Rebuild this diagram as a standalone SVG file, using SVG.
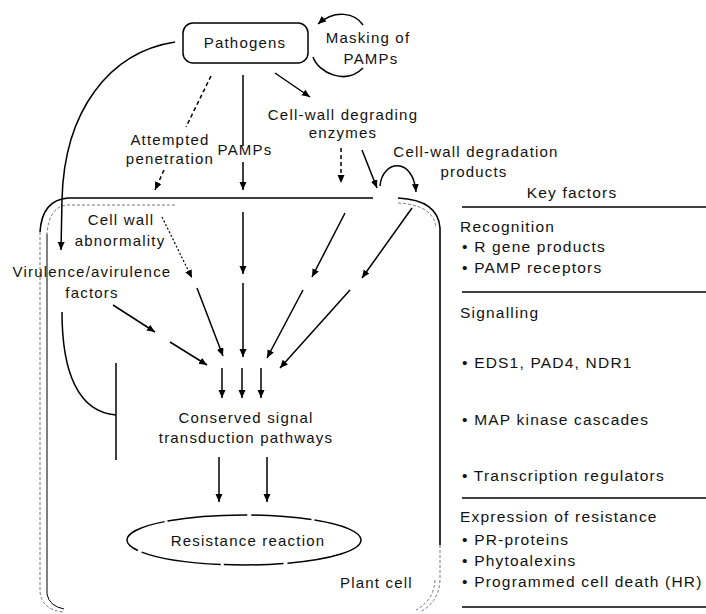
<svg xmlns="http://www.w3.org/2000/svg" width="706" height="614" viewBox="0 0 706 614">
  <style>
    .t { font-family: "Liberation Sans", Arial, sans-serif; font-size: 15px; letter-spacing: 1.2px; fill: #111; }
    .k { font-family: "Liberation Sans", Arial, sans-serif; font-size: 15.5px; letter-spacing: 1.2px; fill: #111; }
    .c { text-anchor: middle; }
    .ln { fill: none; stroke: #000; stroke-width: 1.5; }
    .arr { fill: none; stroke: #000; stroke-width: 1.5; marker-end: url(#ah); }
    .dash { stroke-dasharray: 4 3; }
    .dot { stroke-dasharray: 2 2; stroke-width: 1.2; }
    .wall { fill: none; stroke: #000; stroke-width: 1.6; }
    .wall2 { fill: none; stroke: #666; stroke-width: 0.9; stroke-dasharray: 3 2; }
    .rule { stroke: #000; stroke-width: 1.6; }
  </style>
  <defs>
    <marker id="ah" markerUnits="userSpaceOnUse" markerWidth="10" markerHeight="8" refX="8" refY="3.5" orient="auto">
      <path d="M0,0 L8,3.5 L0,7 z" fill="#000"/>
    </marker>
  </defs>

  <rect width="706" height="614" fill="#fff"/>

  <!-- plant cell wall (double line, open where products pass through) -->
  <g id="plant-cell">
    <path class="wall" d="M373,198 L68,198 Q42,200 40,232"/>
    <path class="wall2" d="M40,232 L40,592 Q42,610 64,612"/>
    <path class="wall2" d="M175,205 L68,205 Q49,206 47,234"/>
    <path fill="none" stroke="#000" stroke-width="1" d="M47,234 L47,594 Q49,606 64,609"/>
    <path class="wall" d="M398,198 Q438,200 440,228 L440,545"/>
    <path class="wall2" d="M398,203 Q434,205 436,228"/>
    <path class="wall2" d="M440,545 L440,580 Q439,602 420,612"/>
    <path class="wall2" d="M435,580 Q434,600 416,610"/>
    <text class="t" x="340" y="588">Plant cell</text>
  </g>

  <g id="pathogens">
    <rect x="183" y="23" width="125" height="40" rx="10" ry="10" fill="#fff" stroke="#000" stroke-width="1.5"/>
    <text class="t c" x="245" y="48">Pathogens</text>
  </g>

  <g id="masking">
    <text class="t c" x="368" y="43">Masking of</text>
    <text class="t c" x="371" y="64">PAMPs</text>
  </g>

  <g id="attempted-penetration">
    <text class="t c" x="170" y="145">Attempted</text>
    <text class="t c" x="170" y="164">penetration</text>
  </g>

  <g id="pamps">
    <text class="t c" x="245" y="155">PAMPs</text>
  </g>

  <g id="enzymes">
    <text class="t c" x="343" y="120">Cell-wall degrading</text>
    <text class="t c" x="343" y="138">enzymes</text>
  </g>

  <g id="degradation-products">
    <text class="t c" x="476" y="157">Cell-wall degradation</text>
    <text class="t c" x="474" y="177">products</text>
  </g>

  <g id="cell-wall-abnormality">
    <text class="t c" x="121" y="225">Cell wall</text>
    <text class="t c" x="120" y="246">abnormality</text>
  </g>

  <g id="virulence-factors">
    <text class="t c" x="92" y="277">Virulence/avirulence</text>
    <text class="t c" x="92" y="298">factors</text>
  </g>

  <g id="signal-pathways">
    <text class="t c" x="246" y="423">Conserved signal</text>
    <text class="t c" x="246" y="443">transduction pathways</text>
  </g>

  <g id="resistance-reaction">
    <ellipse cx="244" cy="540" rx="117" ry="25" fill="none" stroke="#000" stroke-width="1.5" stroke-dasharray="80 4 60 3"/>
    <text class="t c" x="248" y="546">Resistance reaction</text>
  </g>

  <g id="connectors">
    <!-- from pathogens -->
    <path class="ln dash" d="M211,76 L186,127"/>
    <path class="arr dash" d="M164,170 L155,190"/>
    <path class="ln" d="M243,75 L243,146"/>
    <path class="arr" d="M243,162 L243,190"/>
    <path class="arr" d="M275,73 L310,97"/>
    <path class="arr dash" d="M341,148 L341,183"/>
    <path class="arr" d="M362,150 L377,188"/>
    <path class="arr" d="M380,186 C382,160 413,156 416,192"/>
    <path class="arr" d="M175,42 C110,52 64,110 62,200 L61,250"/>
    <!-- masking loop -->
    <path class="arr" d="M363,25 C355,13 335,9 318,24"/>
    <path class="ln" d="M313,57 C318,72 345,86 363,68"/>

    <!-- inside the cell -->
    <path class="arr dot" d="M162,217 L192,278"/>
    <path class="arr" d="M197,288 L223,356"/>
    <path class="arr" d="M243,212 L243,274"/>
    <path class="arr" d="M243,283 L243,357"/>
    <path class="arr" d="M345,213 L312,277"/>
    <path class="arr" d="M303,290 L267,358"/>
    <path class="arr" d="M412,208 L362,278"/>
    <path class="arr" d="M350,290 L280,368"/>
    <path class="arr" d="M113,305 L155,332"/>
    <path class="arr" d="M170,342 L207,365"/>
    <path class="arr" d="M222,368 L222,398"/>
    <path class="arr" d="M242,368 L242,398"/>
    <path class="arr" d="M261,368 L261,398"/>
    <path class="arr" d="M219,457 L219,502"/>
    <path class="arr" d="M267,457 L267,502"/>

    <!-- inhibition of signalling by virulence factors -->
    <path class="ln" d="M62,312 C62,372 78,412 116,415"/>
    <path class="ln" d="M116,363 L116,460"/>
  </g>

  <g id="key-factors">
    <text class="k c" x="572" y="198">Key factors</text>
    <line class="rule" x1="462" y1="207" x2="706" y2="207"/>
    <text class="k" x="460" y="232">Recognition</text>
    <text class="k" x="462" y="252">• R gene products</text>
    <text class="k" x="462" y="273">• PAMP receptors</text>
    <line class="rule" x1="462" y1="292" x2="706" y2="292"/>
    <text class="k" x="460" y="318">Signalling</text>
    <text class="k" x="462" y="368">• EDS1, PAD4, NDR1</text>
    <text class="k" x="462" y="425">• MAP kinase cascades</text>
    <text class="k" x="462" y="481">• Transcription regulators</text>
    <line class="rule" x1="462" y1="498" x2="706" y2="498"/>
    <text class="k" x="460" y="522">Expression of resistance</text>
    <text class="k" x="462" y="545">• PR-proteins</text>
    <text class="k" x="462" y="566">• Phytoalexins</text>
    <text class="k" x="462" y="587">• Programmed cell death (HR)</text>
    <line class="rule" x1="462" y1="607" x2="706" y2="607"/>
  </g>
</svg>
